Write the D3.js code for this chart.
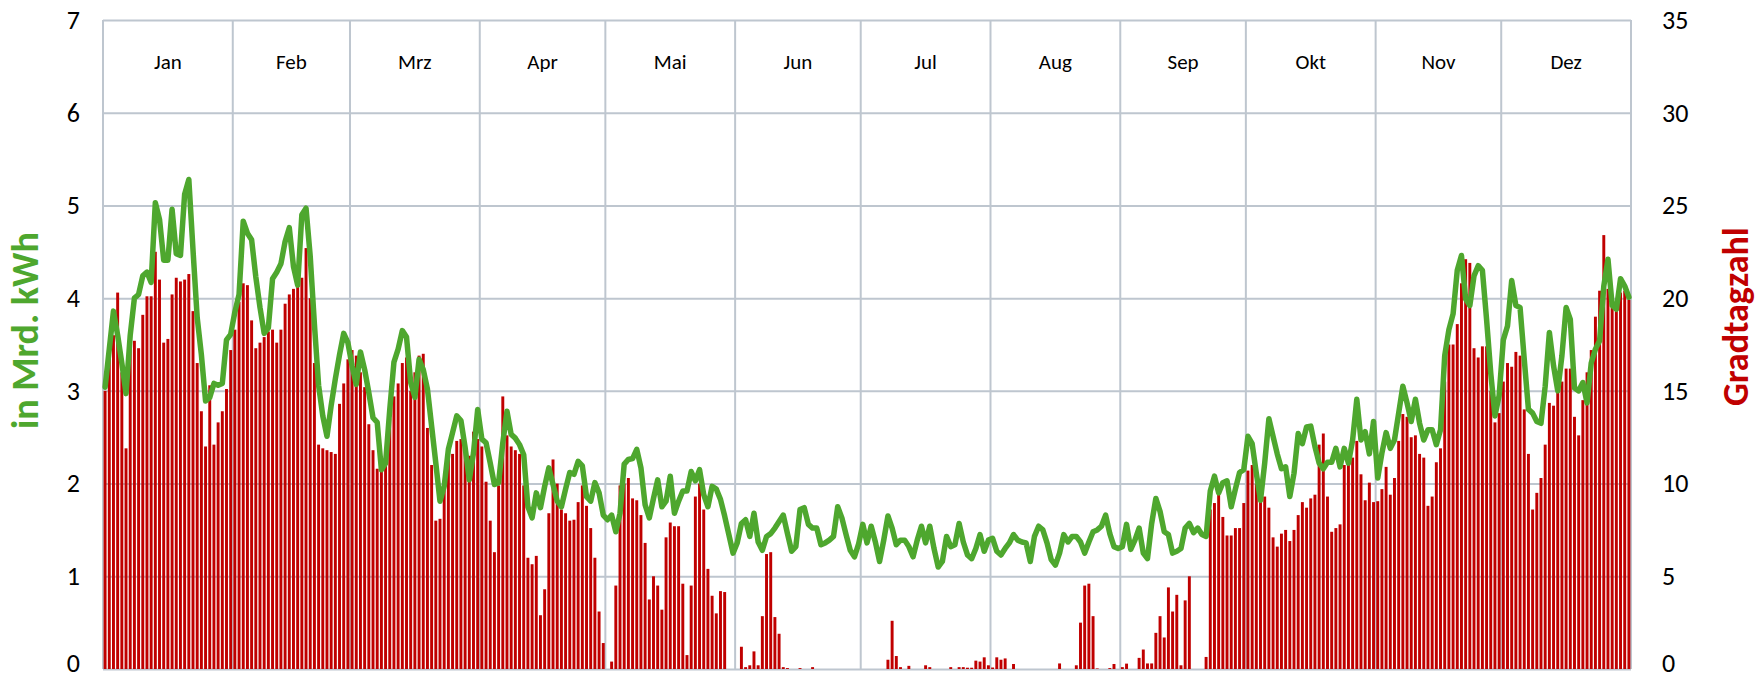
<!DOCTYPE html>
<html>
<head>
<meta charset="utf-8">
<script src="https://cdn.jsdelivr.net/npm/d3@7"></script>
<style>
  body { margin: 0; background: #fff; }
  svg text { font-family: Carlito, Calibri, Lato, sans-serif; }
</style>
</head>
<body>
<div id="chart"></div>
<script>
var months = ['Jan', 'Feb', 'Mrz', 'Apr', 'Mai', 'Jun', 'Jul', 'Aug', 'Sep', 'Okt', 'Nov', 'Dez'];
var monthDays = [31, 28, 31, 30, 31, 30, 31, 31, 30, 31, 30, 31];
var leftTicks = [0, 1, 2, 3, 4, 5, 6, 7];
var rightTicks = [0, 5, 10, 15, 20, 25, 30, 35];

// Gradtagzahl per day (right axis)
var gradtagzahl = [
    15.0, 17.0, 18.0, 20.3, 16.0, 11.9, 17.7, 17.7, 17.3, 19.1, 20.1, 20.1, 22.5, 21.0, 17.6, 17.8, 20.2, 21.1, 20.9, 21.0, 21.3, 19.3, 16.5, 13.9, 12.0, 15.3, 12.1, 13.3, 13.9, 15.1, 17.2,
    18.3, 19.8, 20.8, 20.7, 18.8, 17.3, 17.6, 17.9, 18.2, 18.3, 17.6, 18.3, 19.7, 20.2, 20.5, 20.6, 21.1, 22.7, 20.0, 16.5, 12.1, 11.9, 11.8, 11.7, 11.6, 14.3, 15.4, 16.7,
    17.2, 16.9, 16.0, 15.2, 13.2, 11.8, 10.8, 10.7, 11.5, 13.5, 14.7, 15.4, 16.5, 16.8, 15.0, 16.0, 16.9, 17.0, 13.0, 11.0, 8.0, 8.1, 10.2, 11.6, 11.6, 12.3, 12.4, 12.2, 11.5, 12.8, 12.4,
    12.0, 10.1, 8.0, 6.3, 9.9, 14.7, 12.6, 12.0, 11.8, 11.6, 9.9, 6.0, 5.65, 6.1, 2.9, 4.3, 8.4, 11.3, 10.0, 8.6, 8.4, 8.0, 8.05, 9.0, 9.9, 8.8, 7.6, 6.0, 3.1, 1.4,
    0, 0.4, 4.5, 9.9, 10.0, 10.3, 9.2, 9.1, 8.3, 6.8, 3.75, 5.0, 4.5, 3.2, 7.1, 7.9, 7.7, 7.7, 4.6, 0.75, 4.5, 9.3, 10.0, 8.6, 5.4, 3.95, 3.0, 4.2, 4.15, 0, 0,
    0, 1.2, 0.1, 0.2, 0.95, 0.2, 2.85, 6.2, 6.3, 2.8, 1.9, 0.1, 0.05, 0, 0, 0.05, 0, 0, 0.1, 0, 0, 0, 0, 0, 0, 0, 0, 0, 0, 0,
    0, 0, 0, 0, 0, 0, 0.5, 2.6, 0.7, 0.1, 0, 0.17, 0, 0, 0, 0.2, 0.1, 0, 0, 0, 0, 0.1, 0, 0.1, 0.1, 0.07, 0.07, 0.45, 0.4, 0.63, 0.2,
    0.08, 0.63, 0.5, 0.57, 0, 0.27, 0, 0, 0, 0, 0, 0, 0, 0, 0, 0, 0.3, 0, 0, 0, 0.2, 2.5, 4.5, 4.6, 2.85, 0.03, 0, 0, 0.05, 0.27, 0,
    0.1, 0.29, 0, 0, 0.6, 1.05, 0.3, 0.3, 1.95, 2.85, 1.7, 4.4, 3.1, 4.0, 0.2, 3.7, 5.0, 0, 0, 0, 0.65, 8.6, 8.95, 9.4, 8.2, 7.2, 7.2, 7.6, 7.6, 8.95,
    10.7, 11.0, 10.0, 9.4, 9.3, 8.7, 7.1, 6.6, 7.3, 7.5, 6.9, 7.5, 8.3, 9.0, 8.7, 9.2, 9.4, 12.1, 12.7, 9.3, 7.4, 7.6, 7.8, 11.0, 11.2, 11.4, 12.3, 10.5, 9.1, 10.05, 9.0,
    9.05, 9.7, 10.9, 9.4, 10.3, 12.3, 13.75, 13.6, 12.5, 12.6, 11.6, 11.4, 8.8, 9.3, 11.15, 11.9, 15.5, 17.5, 17.5, 18.6, 20.8, 22.1, 21.9, 17.3, 16.8, 17.4, 17.4, 15.0, 13.3, 13.8,
    15.5, 16.5, 16.3, 17.1, 16.9, 14.0, 11.6, 8.6, 9.5, 10.3, 12.1, 14.35, 14.2, 15.0, 15.5, 16.2, 16.2, 13.6, 12.6, 14.5, 16.0, 17.2, 19.0, 20.4, 23.4, 20.5, 19.5, 19.3, 20.3, 20.4, 19.9
];

// consumption in Mrd. kWh per day (left axis)
var verbrauch = [
    3.04, 3.45, 3.86, 3.6, 3.3, 2.97, 3.6, 4.0, 4.04, 4.24, 4.28, 4.17, 5.03, 4.85, 4.41, 4.41, 4.96, 4.48, 4.46, 5.12, 5.28, 4.52, 3.79, 3.39, 2.89, 2.93, 3.08, 3.06, 3.08, 3.55, 3.61,
    3.85, 4.04, 4.83, 4.70, 4.63, 4.23, 3.90, 3.62, 3.68, 4.21, 4.28, 4.37, 4.61, 4.76, 4.34, 4.14, 4.90, 4.97, 4.45, 3.72, 3.06, 2.73, 2.51, 2.84, 3.13, 3.39, 3.62, 3.52,
    3.27, 3.07, 3.42, 3.23, 2.98, 2.71, 2.66, 2.15, 2.22, 2.8, 3.31, 3.45, 3.65, 3.58, 3.09, 2.93, 3.34, 3.23, 3.02, 2.62, 2.22, 1.81, 1.97, 2.37, 2.55, 2.73, 2.68, 2.39, 2.04, 2.33, 2.8,
    2.48, 2.44, 2.22, 1.99, 2.01, 2.44, 2.78, 2.53, 2.49, 2.42, 2.31, 1.75, 1.63, 1.90, 1.74, 1.97, 2.17, 1.99, 1.81, 1.75, 1.94, 2.12, 2.10, 2.24, 2.19, 1.86, 1.81, 2.01, 1.90, 1.66,
    1.61, 1.66, 1.48, 1.68, 2.21, 2.26, 2.27, 2.37, 2.17, 1.77, 1.63, 1.84, 2.04, 1.75, 1.81, 2.08, 1.68, 1.81, 1.92, 1.92, 2.13, 2.03, 2.15, 1.88, 1.75, 1.97, 1.94, 1.83, 1.65, 1.45, 1.25,
    1.36, 1.57, 1.61, 1.43, 1.68, 1.37, 1.28, 1.43, 1.46, 1.52, 1.59, 1.66, 1.46, 1.27, 1.32, 1.72, 1.74, 1.56, 1.52, 1.52, 1.34, 1.36, 1.39, 1.43, 1.75, 1.63, 1.45, 1.28, 1.21, 1.35,
    1.56, 1.36, 1.54, 1.37, 1.16, 1.39, 1.65, 1.52, 1.34, 1.39, 1.39, 1.32, 1.21, 1.39, 1.54, 1.36, 1.54, 1.30, 1.10, 1.16, 1.43, 1.32, 1.34, 1.57, 1.37, 1.23, 1.19, 1.30, 1.45, 1.27, 1.39,
    1.41, 1.27, 1.23, 1.30, 1.36, 1.45, 1.39, 1.37, 1.36, 1.16, 1.43, 1.54, 1.50, 1.36, 1.18, 1.12, 1.25, 1.45, 1.37, 1.43, 1.43, 1.37, 1.25, 1.37, 1.48, 1.50, 1.54, 1.66, 1.46, 1.32, 1.30,
    1.32, 1.56, 1.29, 1.39, 1.52, 1.25, 1.19, 1.57, 1.84, 1.70, 1.48, 1.45, 1.25, 1.27, 1.30, 1.52, 1.57, 1.47, 1.52, 1.45, 1.43, 1.92, 2.08, 1.90, 2.01, 2.03, 1.75, 1.94, 2.12, 2.15,
    2.51, 2.43, 2.11, 1.82, 2.22, 2.70, 2.51, 2.32, 2.16, 2.18, 1.86, 2.11, 2.54, 2.43, 2.61, 2.62, 2.40, 2.22, 2.16, 2.23, 2.23, 2.38, 2.18, 2.38, 2.22, 2.47, 2.91, 2.47, 2.56, 2.32, 2.67,
    2.06, 2.33, 2.55, 2.38, 2.47, 2.76, 3.05, 2.87, 2.67, 2.91, 2.65, 2.47, 2.58, 2.58, 2.42, 2.58, 3.38, 3.66, 3.83, 4.30, 4.46, 3.99, 3.92, 4.24, 4.35, 4.30, 3.77, 3.19, 2.73, 2.95,
    3.55, 3.70, 4.19, 3.92, 3.90, 3.34, 2.80, 2.76, 2.67, 2.65, 3.05, 3.63, 3.27, 3.0, 3.38, 3.90, 3.77, 3.03, 3.0, 3.09, 2.87, 3.30, 3.45, 3.54, 4.13, 4.42, 3.92, 3.88, 4.21, 4.13, 4.01
];

function renderChart(selector) {
    var width = 1760,
        height = 679;

    var margin = {
        top: 20,
        right: 129,
        bottom: 10,
        left: 103
    };

    var plotW = width - margin.left - margin.right,
        plotH = height - margin.top - margin.bottom;

    var gridColor = '#bec6cf',
        green = '#4ea72e',
        red = '#c00000';

    var nDays = d3.sum(monthDays);

    // month start offsets
    var monthStart = [0];
    monthDays.forEach(function (d, i) {
        monthStart.push(monthStart[i] + d);
    });

    // scales
    var xDay = d3.scaleLinear().domain([0, nDays]).range([0, plotW]);
    var xBand = d3.scaleBand()
        .domain(d3.range(nDays))
        .range([0, plotW])
        .paddingInner(0.3)
        .paddingOuter(0.15);
    var yLeft = d3.scaleLinear().domain([0, 7]).range([plotH, 0]);
    var yRight = d3.scaleLinear().domain([0, 35]).range([plotH, 0]);

    var svg = d3.select(selector).append('svg')
        .attr('width', width)
        .attr('height', height);

    var g = svg.append('g')
        .attr('transform', 'translate(' + margin.left + ',' + margin.top + ')');

    // horizontal grid
    g.append('g')
        .attr('class', 'grid')
        .call(d3.axisLeft(yLeft).tickValues(leftTicks).tickSize(-plotW).tickFormat(''))
        .call(function (s) {
            s.select('.domain').remove();
            s.selectAll('line').attr('stroke', gridColor).attr('stroke-width', 2);
        });

    // vertical month lines
    g.append('g')
        .selectAll('line')
        .data(monthStart)
        .enter()
        .append('line')
        .attr('x1', function (d) { return xDay(d); })
        .attr('x2', function (d) { return xDay(d); })
        .attr('y1', 0)
        .attr('y2', plotH)
        .attr('stroke', gridColor)
        .attr('stroke-width', 2);

    // month labels
    g.append('g')
        .selectAll('text')
        .data(months)
        .enter()
        .append('text')
        .attr('x', function (d, i) { return xDay(monthStart[i] + monthDays[i] / 2); })
        .attr('y', yLeft(6.55))
        .attr('dy', '.35em')
        .attr('text-anchor', 'middle')
        .style('font-size', '21px')
        .style('fill', '#000')
        .text(function (d) { return d; });

    // bars (Gradtagzahl)
    g.append('g')
        .selectAll('rect')
        .data(gradtagzahl)
        .enter()
        .append('rect')
        .attr('x', function (d, i) { return xBand(i); })
        .attr('width', xBand.bandwidth())
        .attr('y', function (d) { return yRight(d); })
        .attr('height', function (d) { return plotH - yRight(d); })
        .style('fill', red);

    // consumption line
    var line = d3.line()
        .x(function (d, i) { return xBand(i) + xBand.bandwidth() / 2; })
        .y(function (d) { return yLeft(d); });

    g.append('path')
        .datum(verbrauch)
        .attr('d', line)
        .attr('fill', 'none')
        .attr('stroke', green)
        .attr('stroke-width', 5.5)
        .attr('stroke-linejoin', 'round')
        .attr('stroke-linecap', 'round');

    // the lowest tick label sits on the bottom edge, lift it a little
    function liftZero(s) {
        s.selectAll('.tick')
            .filter(function (d) { return d === 0; })
            .select('text')
            .attr('dy', '0.1em');
    }

    // left axis labels
    g.append('g')
        .attr('transform', 'translate(-20,0)')
        .call(d3.axisLeft(yLeft).tickValues(leftTicks).tickSize(0).tickFormat(d3.format('d')))
        .call(function (s) {
            s.select('.domain').remove();
            s.selectAll('text').style('font-size', '26px').style('fill', '#000');
        })
        .call(liftZero);

    // right axis labels
    g.append('g')
        .attr('transform', 'translate(' + (plotW + 28) + ',0)')
        .call(d3.axisRight(yRight).tickValues(rightTicks).tickSize(0).tickFormat(d3.format('d')))
        .call(function (s) {
            s.select('.domain').remove();
            s.selectAll('text').style('font-size', '26px').style('fill', '#000');
        })
        .call(liftZero);

    // axis titles
    svg.append('text')
        .attr('transform', 'translate(38,' + (margin.top + yLeft(3.65)) + ') rotate(-90)')
        .attr('text-anchor', 'middle')
        .style('font-size', '38px')
        .style('font-weight', 'bold')
        .style('fill', green)
        .text('in Mrd. kWh');

    svg.append('text')
        .attr('transform', 'translate(1748,' + (margin.top + yRight(19)) + ') rotate(-90)')
        .attr('text-anchor', 'middle')
        .style('font-size', '36px')
        .style('font-weight', 'bold')
        .style('fill', red)
        .text('Gradtagzahl');
}

renderChart('#chart');
</script>
</body>
</html>
